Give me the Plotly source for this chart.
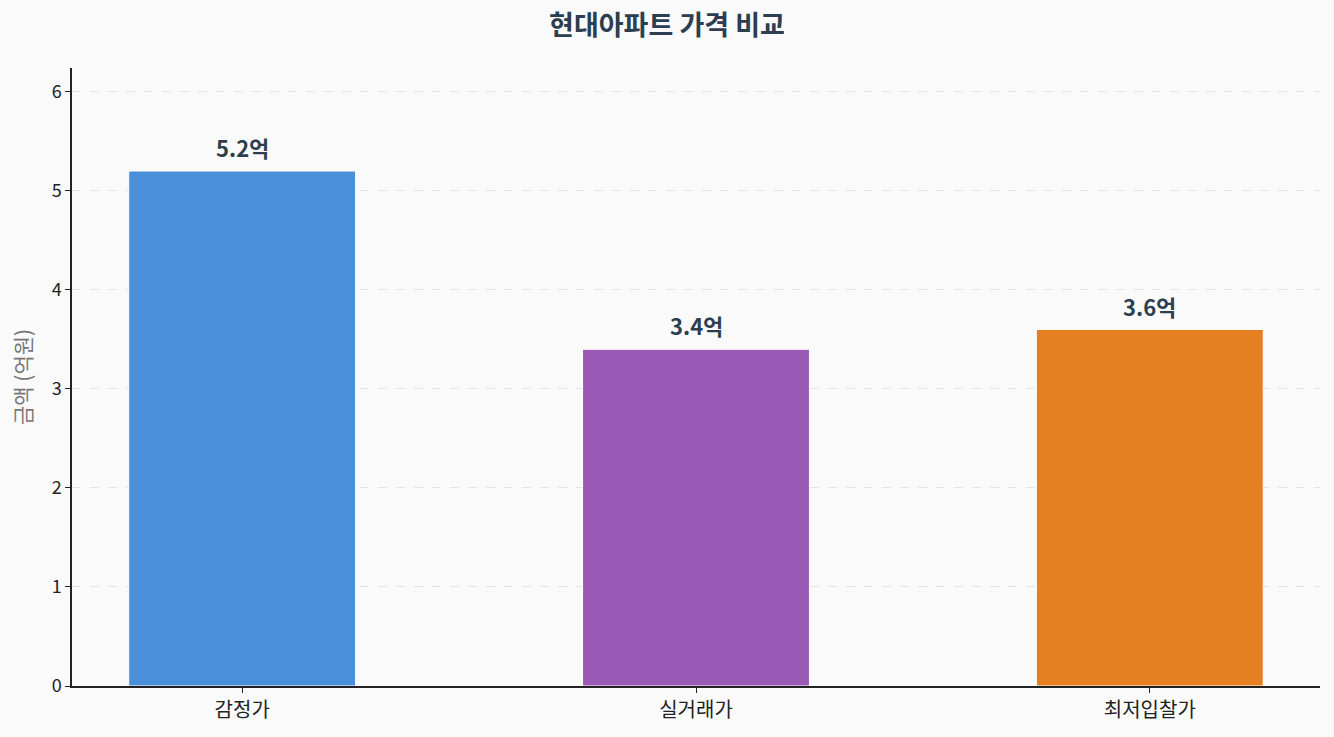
import plotly.graph_objects as go

categories = ["감정가", "실거래가", "최저입찰가"]
values = [5.2, 3.4, 3.6]
labels = ["5.2억", "3.4억", "3.6억"]
colors = ["#4a90d9", "#9b59b6", "#e67e22"]

FONT = "Noto Sans CJK KR"
W, H = 1334, 737

fig = go.Figure()
fig.add_trace(go.Bar(
    x=list(range(len(categories))), y=values, width=0.5,
    marker=dict(color=colors, line=dict(color="white", width=1)),
    hoverinfo="skip",
))
for i, (v, t) in enumerate(zip(values, labels)):
    fig.add_annotation(x=i, y=v + 0.06, text=f"<b>{t}</b>", showarrow=False,
                       yanchor="bottom", font=dict(size=22, color="#2c3e50", family=FONT))

# y-axis title as an annotation so it can sit where the reference has it
fig.add_annotation(xref="paper", yref="paper", x=0, y=0.5, xshift=-50, textangle=-90,
                   text="금액 (억원)", showarrow=False, xanchor="center", yanchor="middle",
                   font=dict(size=21, color="#777", family=FONT))

fig.update_layout(
    width=W, height=H,
    paper_bgcolor="#fafafa", plot_bgcolor="#fafafa",
    margin=dict(l=72, r=14, t=68, b=51, pad=0),
    title=dict(text="<b>현대아파트 가격 비교</b>", x=0.5, xanchor="center",
               y=1 - 26 / H, yanchor="middle",
               font=dict(size=27, color="#2c3e50", family=FONT)),
    font=dict(family=FONT, size=18, color="#222"),
    showlegend=False,
    xaxis=dict(range=[-0.375, 2.375], tickmode="array", tickvals=list(range(len(categories))),
               ticktext=categories, showline=True, linecolor="#222", linewidth=1.5,
               ticks="outside", ticklen=5, tickcolor="#222", showgrid=False, zeroline=False,
               tickfont=dict(size=20, color="#222")),
    yaxis=dict(range=[0, 6.24], dtick=1, showline=True, linecolor="#222", linewidth=1.5,
               ticks="outside", ticklen=5, tickcolor="#222", showgrid=True,
               gridcolor="#e3e3e3", griddash="dash", gridwidth=1, zeroline=False,
               tickfont=dict(size=18, color="#222")),
)
fig.write_html("out.html", config={"displayModeBar": False},
               post_script="document.body.style.margin='0';document.body.style.background='#fafafa';")
